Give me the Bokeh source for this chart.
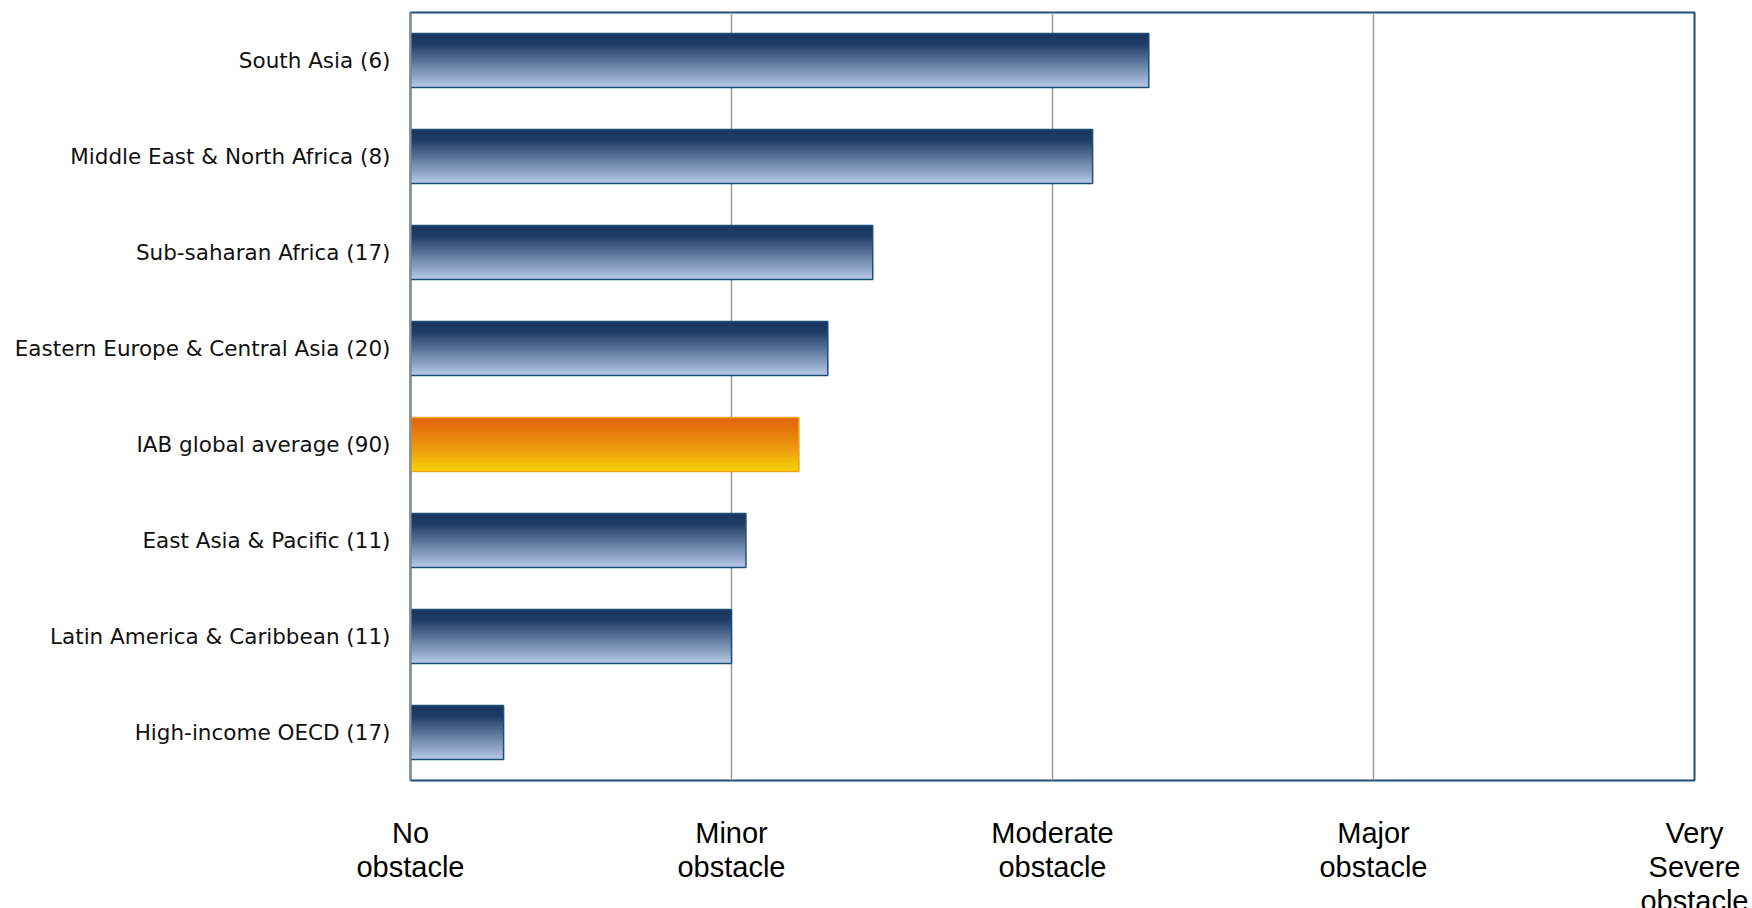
from bokeh.plotting import figure
from bokeh.models import ColumnDataSource, FactorRange, Range1d, FixedTicker
from bokeh.transform import dodge
from bokeh.embed import file_html
from bokeh.resources import INLINE

# Regions (top to bottom) and their average obstacle rating (0 = none ... 4 = very severe)
regions = [
    "South Asia (6)",
    "Middle East & North Africa (8)",
    "Sub-saharan Africa (17)",
    "Eastern Europe & Central Asia (20)",
    "IAB global average (90)",
    "East Asia & Pacific (11)",
    "Latin America & Caribbean (11)",
    "High-income OECD (17)",
]
ratings = [2.30, 2.125, 1.44, 1.30, 1.21, 1.045, 1.0, 0.29]
highlight = "IAB global average (90)"

scale_ticks = [0, 1, 2, 3, 4]
scale_labels = [
    "No\nobstacle",
    "Minor\nobstacle",
    "Moderate\nobstacle",
    "Major\nobstacle",
    "Very\nSevere\nobstacle",
]

BAR_H = 0.56
N_SLICES = 30

# gradient stops (position from bar top, rgb)
blue_stops = [(0.0, (26, 54, 94)), (0.18, (28, 58, 100)), (0.55, (98, 124, 160)), (1.0, (182, 200, 232))]
orange_stops = [(0.0, (226, 104, 12)), (0.15, (228, 110, 12)), (0.6, (236, 158, 14)), (1.0, (246, 210, 8))]


def ramp(stops, t):
    for (p0, c0), (p1, c1) in zip(stops[:-1], stops[1:]):
        if t <= p1:
            f = (t - p0) / (p1 - p0) if p1 > p0 else 0
            return "#%02x%02x%02x" % tuple(round(a + (b - a) * f) for a, b in zip(c0, c1))
    return "#%02x%02x%02x" % stops[-1][1]


data = dict(cat=regions, value=ratings,
            edge=["#f2a41c" if r == highlight else "#1f4e79" for r in regions])
step = BAR_H / N_SLICES
slice_geo = []
for k in range(N_SLICES):
    t = (k + 0.5) / N_SLICES
    data[f"c{k}"] = [ramp(orange_stops if r == highlight else blue_stops, t) for r in regions]
    top = BAR_H / 2 - k * step
    bot = max(-BAR_H / 2, BAR_H / 2 - (k + 1) * step - 0.6 * step)
    slice_geo.append(((top + bot) / 2, top - bot))
src = ColumnDataSource(data)

p = figure(
    y_range=FactorRange(factors=list(reversed(regions)), range_padding=0),
    x_range=Range1d(0, 4),
    frame_width=1284, frame_height=768,
    min_border_left=410, min_border_right=58, min_border_top=12, min_border_bottom=100,
    output_backend="svg", toolbar_location=None,
    background_fill_color="white", border_fill_color="white",
)

# gradient bars built from thin horizontal bands
for k, (off, h) in enumerate(slice_geo):
    p.hbar(y=dodge("cat", off, range=p.y_range), left=0, right="value", height=h,
           fill_color=f"c{k}", line_color=None, source=src)

# bar edges
p.hbar(y="cat", left=0, right="value", height=BAR_H, fill_color=None,
       line_color="edge", line_width=1.5, source=src)

p.outline_line_color = "#1f4e79"
p.outline_line_width = 2
p.outline_line_alpha = 1

p.ygrid.grid_line_color = None
p.xgrid.ticker = FixedTicker(ticks=scale_ticks)
p.xgrid.grid_line_color = "#9a9a9a"
p.xgrid.grid_line_width = 1.5

xa = p.xaxis[0]
xa.ticker = FixedTicker(ticks=scale_ticks)
xa.major_label_overrides = {t: lab for t, lab in zip(scale_ticks, scale_labels)}
xa.axis_line_color = None
xa.major_tick_line_color = None
xa.minor_tick_line_color = None
xa.major_label_standoff = 30
xa.major_label_text_font = "Liberation Sans"
xa.major_label_text_font_size = "29px"
xa.major_label_text_color = "#000000"
xa.major_label_text_line_height = 1.07

ya = p.yaxis[0]
ya.axis_line_color = "#8c8c8c"
ya.axis_line_width = 2
ya.major_tick_line_color = None
ya.minor_tick_line_color = None
ya.major_label_standoff = 14
ya.major_label_text_font = "DejaVu Sans"
ya.major_label_text_font_size = "21.5px"
ya.major_label_text_color = "#111111"

open("out.html", "w").write(file_html(p, INLINE))
